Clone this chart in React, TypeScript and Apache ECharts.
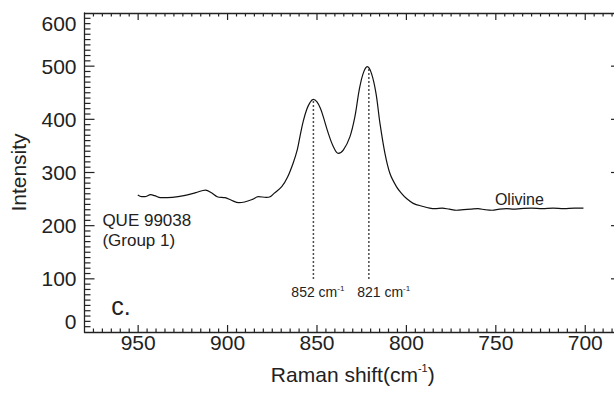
import React, { useEffect, useRef } from "react";
import * as echarts from "echarts";

// Raman spectrum (x: Raman shift in cm^-1, y: intensity)
const ramanShift = [
  950.2, 948.0, 946.3, 943.0, 940.8, 937.5, 930.9, 924.4, 917.8, 912.3,
  909.0, 905.8, 901.4, 898.1, 893.7, 890.5, 886.1, 882.8, 878.4, 876.2,
  874.0, 869.7, 866.5, 863.3, 861.0, 859.5, 857.7, 855.8, 854.0, 852.1,
  850.0, 848.0, 846.5, 843.7, 840.9, 838.1, 835.3, 831.6, 828.8, 826.4,
  824.2, 821.9, 819.5, 817.0, 814.8, 812.0, 809.2, 805.5, 802.5, 799.9,
  796.2, 790.6, 787.0, 784.0, 780.0, 776.0, 772.0, 768.0, 764.0, 760.0,
  756.0, 752.0, 748.0, 744.0, 740.0, 736.0, 730.0, 724.0, 718.0, 712.0,
  706.0, 701.0,
];
const intensity = [
  257.6, 254.5, 254.5, 258.3, 256.4, 252.6, 253.3, 256.4, 262.0, 267.0,
  262.0, 254.5, 252.6, 248.2, 243.2, 244.5, 249.5, 254.5, 253.3, 254.5,
  260.8, 273.3, 291, 318, 343, 368, 396, 418, 431, 437.5,
  433, 420, 405, 374, 349, 336, 342, 367, 405, 455,
  486, 499, 486, 449, 393, 336, 298, 273, 260, 251,
  242, 236, 233, 232, 233, 231, 229, 230, 231, 232,
  230, 229, 231, 232, 231, 232, 233, 232, 233, 232,
  233, 233,
];

// Peak markers
const peakShifts = [852, 821];
const peakTops = [437, 499];
const peakBase = 100;
const peakLabelNames = ["852", "821"];
const peakLabelX = [849.5, 812.7];
const peakLabelY = 75;

// Text annotations
const noteText = ["QUE 99038", "(Group 1)", "Olivine", "c."];
const noteX = [970, 970, 750.5, 965];
const noteY = [209, 172, 250, 48];
const noteSize = [17, 17, 16, 25];

// Axis ranges and tick steps
const xRange = [680, 980];
const yRange = [0, 600];
const xMajorStep = 50;
const xMinorStep = 5;
const yMajorStep = 100;
const yMinorStep = 10;

const FONT = "'Liberation Sans', Arial, Helvetica, sans-serif";
const INK = "#222";

// inward tick marks (kind 0 = x tick on bottom & top, kind 1 = y tick on left & right)
function buildTicks() {
  const out: number[][] = [];
  for (let v = xRange[0] + xMinorStep; v < xRange[1]; v += xMinorStep) {
    out.push([v, 0, v % xMajorStep === 0 ? 7 : 3.5]);
  }
  for (let v = yRange[0] + yMinorStep; v < yRange[1]; v += yMinorStep) {
    out.push([v, 1, v % yMajorStep === 0 ? 10 : 6]);
  }
  return out;
}

export default function App() {
  const ref = useRef<HTMLDivElement>(null);

  useEffect(() => {
    if (!ref.current) return;
    const chart = echarts.init(ref.current, undefined, { renderer: "svg" });

    const axisLineStyle = { color: INK, width: 1.3 };

    const xBase = {
      type: "value",
      min: xRange[0],
      max: xRange[1],
      inverse: true,
      minInterval: xMajorStep,
      maxInterval: xMajorStep,
      axisLine: { show: true, onZero: false, lineStyle: axisLineStyle },
      axisTick: { show: false },
      minorTick: { show: false },
      splitLine: { show: false },
      minorSplitLine: { show: false },
    };
    const yBase = {
      type: "value",
      min: yRange[0],
      max: yRange[1],
      interval: yMajorStep,
      axisLine: { show: true, onZero: false, lineStyle: axisLineStyle },
      axisTick: { show: false },
      minorTick: { show: false },
      splitLine: { show: false },
      minorSplitLine: { show: false },
    };

    const tickLine = (x1: number, y1: number, x2: number, y2: number) => ({
      type: "line",
      shape: { x1, y1, x2, y2 },
      style: { stroke: INK, lineWidth: 1.2 },
    });

    const series: any[] = [
      {
        type: "line",
        data: ramanShift.map((x, i) => [x, intensity[i]]),
        showSymbol: false,
        smooth: 0.35,
        lineStyle: { color: "#111", width: 1.2 },
        silent: true,
        z: 3,
      },
    ];

    peakShifts.forEach((p, i) => {
      series.push({
        type: "line",
        data: [
          [p, peakBase],
          [p, peakTops[i]],
        ],
        showSymbol: false,
        lineStyle: { color: "#111", width: 1.5, type: [1.5, 2.5] },
        silent: true,
        z: 2,
      });
    });

    // tick marks
    series.push({
      type: "custom",
      silent: true,
      clip: false,
      z: 5,
      data: buildTicks(),
      renderItem: (_params: any, api: any) => {
        const v = api.value(0);
        const kind = api.value(1);
        const len = api.value(2);
        if (kind === 0) {
          const b = api.coord([v, yRange[0]]);
          const t = api.coord([v, yRange[1]]);
          return {
            type: "group",
            children: [tickLine(b[0], b[1], b[0], b[1] - len), tickLine(t[0], t[1], t[0], t[1] + len)],
          };
        }
        const l = api.coord([xRange[1], v]);
        const r = api.coord([xRange[0], v]);
        return {
          type: "group",
          children: [tickLine(l[0], l[1], l[0] + len, l[1]), tickLine(r[0], r[1], r[0] - len, r[1])],
        };
      },
    });

    // peak labels
    series.push({
      type: "custom",
      silent: true,
      clip: false,
      data: peakLabelX.map((x, i) => [x, peakLabelY, i]),
      renderItem: (_params: any, api: any) => {
        const p = api.coord([api.value(0), api.value(1)]);
        const i = api.value(2);
        return {
          type: "text",
          x: p[0],
          y: p[1],
          style: {
            text: `{a|${peakLabelNames[i]} cm}{s|-1}`,
            align: "center",
            verticalAlign: "middle",
            rich: {
              a: { fontSize: 14, fontFamily: FONT, fill: INK, lineHeight: 16 },
              s: { fontSize: 8, fontFamily: FONT, fill: INK, lineHeight: 8, verticalAlign: "top" },
            },
          },
        };
      },
    });

    // text notes
    series.push({
      type: "custom",
      silent: true,
      clip: false,
      data: noteX.map((x, i) => [x, noteY[i], i]),
      renderItem: (_params: any, api: any) => {
        const p = api.coord([api.value(0), api.value(1)]);
        const i = api.value(2);
        return {
          type: "text",
          x: p[0],
          y: p[1],
          style: {
            text: noteText[i],
            fontSize: noteSize[i],
            fontFamily: FONT,
            fill: INK,
            align: "left",
            verticalAlign: "middle",
          },
        };
      },
    });

    chart.setOption({
      animation: false,
      backgroundColor: "#fff",
      grid: { left: 84.5, right: -7, top: 13, bottom: 61, containLabel: false, outerBoundsMode: "none" },
      xAxis: [
        {
          ...xBase,
          position: "bottom",
          axisLabel: {
            show: true,
            margin: 0,
            fontSize: 21,
            fontFamily: FONT,
            color: INK,
            showMinLabel: false,
            showMaxLabel: false,
          },
          name: "{a|Raman shift(cm}{s|-1}{a|)}",
          nameLocation: "middle",
          nameGap: 30,
          nameTextStyle: {
            rich: {
              a: { fontSize: 21, fontFamily: FONT, color: INK, lineHeight: 24 },
              s: { fontSize: 11, fontFamily: FONT, color: INK, lineHeight: 11, verticalAlign: "top" },
            },
          },
        },
        {
          ...xBase,
          position: "top",
          axisLabel: { show: false },
        },
      ],
      yAxis: [
        {
          ...yBase,
          position: "left",
          axisLabel: {
            show: true,
            margin: 8,
            fontSize: 21,
            fontFamily: FONT,
            color: INK,
            verticalAlignMinLabel: "bottom",
            verticalAlignMaxLabel: "top",
          },
          name: "Intensity",
          nameLocation: "middle",
          nameGap: 56,
          nameTextStyle: { fontSize: 21, fontFamily: FONT, color: INK },
        },
        {
          ...yBase,
          position: "right",
          axisLabel: { show: false },
        },
      ],
      series,
    });

    return () => chart.dispose();
  }, []);

  return (
    <div
      ref={ref}
      style={{ position: "fixed", left: 0, top: 0, width: 614, height: 393, background: "#fff" }}
    />
  );
}
